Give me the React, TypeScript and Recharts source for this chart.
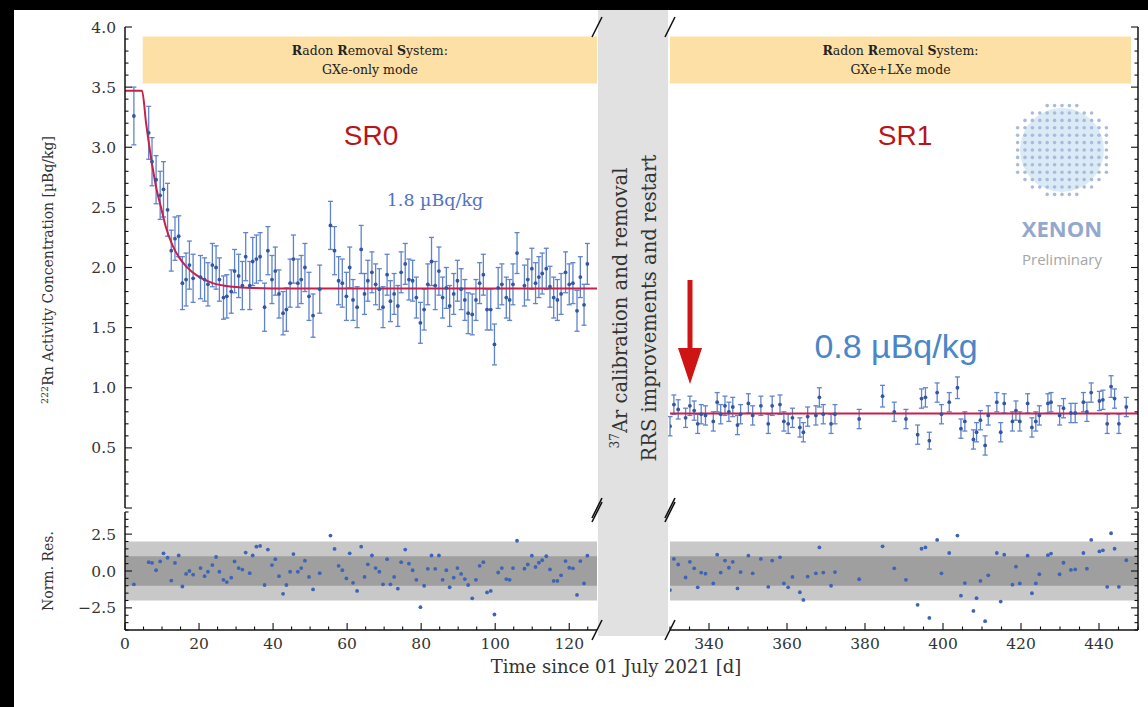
import React from 'react';
import { ComposedChart, Scatter, Line, XAxis, YAxis, ErrorBar, ReferenceArea } from 'recharts';

// ---------- SR0 (GXe-only mode) ----------
const sr0Days = [
  2.4, 6.4, 7.3, 8.4, 9.5, 10.4, 11.5, 12.5, 13.5, 14.5,
  15.5, 16.5, 17.4, 18.4, 20.4, 21.5, 22.4, 23.6, 24.6, 25.5,
  26.6, 27.5, 28.7, 29.6, 30.7, 31.7, 32.6, 33.7, 34.5, 35.5,
  36.5, 37.7, 38.6, 39.7, 40.6, 41.6, 42.7, 43.6, 44.6, 45.5,
  46.7, 47.6, 48.6, 49.7, 50.8, 52.6, 55.5, 56.6, 57.7, 58.7,
  59.8, 60.7, 61.6, 62.7, 63.8, 64.7, 65.6, 66.7, 67.7, 68.7,
  69.7, 70.8, 71.7, 72.7, 73.7, 74.6, 75.7, 76.7, 77.7, 78.7,
  79.8, 80.8, 81.8, 82.8, 83.8, 84.8, 85.8, 86.8, 87.7, 88.8,
  89.8, 90.8, 91.8, 92.7, 93.8, 94.8, 95.8, 96.8, 97.8, 98.8,
  99.8, 100.8, 101.8, 103.0, 103.9, 104.8, 105.9, 107.9, 108.8, 109.9,
  110.9, 111.8, 112.7, 113.8, 114.8, 115.8, 116.8, 117.8, 119.0, 120.0,
  121.0, 122.1, 123.0, 124.0, 124.9,
];
const sr0Conc = [
  3.26, 3.12, 2.88, 2.73, 2.6, 2.65, 2.48, 2.14, 2.24, 2.26,
  1.87, 1.9, 2.02, 1.91, 1.92, 1.9, 1.86, 2.02, 2.0, 1.9,
  1.75, 1.76, 1.8, 1.97, 1.93, 1.85, 2.09, 1.85, 2.05, 2.07,
  2.09, 1.67, 2.14, 1.9, 1.97, 1.78, 1.62, 1.65, 1.87, 2.07,
  1.87, 1.9, 2.0, 1.76, 1.6, 1.82, 2.35, 2.14, 1.89, 1.87,
  1.76, 2.0, 1.73, 1.67, 2.15, 1.78, 1.89, 1.96, 1.86, 1.82,
  1.67, 1.94, 1.72, 1.78, 1.68, 1.96, 2.03, 1.9, 1.89, 1.75,
  1.54, 1.65, 1.86, 2.05, 1.85, 1.97, 1.75, 1.83, 1.68, 1.78,
  1.89, 1.82, 1.73, 1.62, 1.61, 1.73, 1.87, 1.94, 1.65, 1.65,
  1.36, 1.83, 1.86, 1.75, 1.73, 1.86, 2.12, 1.85, 1.9, 1.99,
  1.87, 1.92, 1.95, 1.99, 1.84, 1.75, 1.73, 1.78, 1.96, 1.86,
  1.87, 1.64, 1.92, 1.69, 2.03,
];
const sr0Err = [
  0.24, 0.22, 0.2, 0.2, 0.2, 0.23, 0.22, 0.17, 0.18, 0.17,
  0.22, 0.22, 0.2, 0.2, 0.18, 0.18, 0.18, 0.18, 0.18, 0.18,
  0.18, 0.18, 0.18, 0.18, 0.18, 0.2, 0.2, 0.2, 0.2, 0.2,
  0.2, 0.2, 0.2, 0.2, 0.2, 0.2, 0.18, 0.18, 0.2, 0.2,
  0.2, 0.2, 0.2, 0.2, 0.18, 0.2, 0.2, 0.2, 0.2, 0.2,
  0.2, 0.17, 0.17, 0.17, 0.2, 0.17, 0.17, 0.17, 0.17, 0.17,
  0.17, 0.17, 0.17, 0.17, 0.17, 0.17, 0.17, 0.17, 0.17, 0.17,
  0.17, 0.17, 0.17, 0.2, 0.2, 0.2, 0.17, 0.17, 0.17, 0.17,
  0.17, 0.17, 0.17, 0.17, 0.17, 0.17, 0.17, 0.17, 0.17, 0.17,
  0.17, 0.17, 0.17, 0.17, 0.17, 0.17, 0.17, 0.17, 0.17, 0.17,
  0.17, 0.17, 0.17, 0.17, 0.17, 0.17, 0.17, 0.17, 0.17, 0.17,
  0.17, 0.17, 0.17, 0.17, 0.17,
];
const sr0Res = [
  -0.9, 0.6, 0.55, 0.05, 0.65, 1.2, 0.9, -0.65, 0.55, 1.05,
  -1.05, -0.2, 0.0, -0.25, 0.2, -0.35, -0.05, 0.4, 0.95, -0.05,
  -0.6, -0.75, -0.45, 0.65, 0.2, 0.1, 1.25, -0.15, 1.05, 1.65,
  1.7, -0.95, 1.45, 0.4, 0.8, -0.35, -1.55, -0.95, -0.05, 1.15,
  -0.05, 0.2, 0.7, -0.4, -1.25, -0.15, 2.4, 1.5, 0.35, 0.05,
  -0.5, 1.2, -0.8, -1.35, 1.65, -0.4, 0.45, 1.05, 0.2, -0.05,
  -0.9, 0.8, -0.9, -0.4, -1.2, 0.6, 1.45, 0.5, 0.05, -0.6,
  -2.45, -1.0, 0.15, 1.05, 0.15, 1.05, -0.6, 0.05, -1.1, -0.45,
  0.2, -0.2, -0.55, -0.95, -1.85, -0.6, 0.35, 0.6, -1.45, -1.35,
  -2.95, -0.1, 0.2, -0.55, -0.6, 0.2, 2.05, 0.16, 0.44, 1.04,
  0.27, 0.56, 0.73, 1.0, 0.11, -0.67, -0.67, -0.29, 0.67, 0.22,
  0.18, -1.62, 0.67, -0.84, 1.04,
];
// fitted decay towards the 1.8 uBq/kg plateau
const sr0FitDays = [0, 4.6, 5.7, 7.1, 8.4, 9.8, 11.1, 12.9, 14.7, 16.5, 20.1, 23.7, 29.1, 34.5, 45, 127.5];
const sr0FitConc = [3.47, 3.47, 3.2, 2.9, 2.67, 2.49, 2.33, 2.18, 2.08, 2.01, 1.92, 1.87, 1.84, 1.83, 1.825, 1.825];

// ---------- SR1 (GXe+LXe mode) ----------
const sr1Days = [
  330.0, 331.0, 332.1, 334.0, 335.1, 336.2, 337.1, 338.0, 339.1, 341.1,
  342.1, 343.0, 344.1, 345.1, 346.1, 347.3, 348.1, 350.1, 351.2, 353.3,
  355.2, 356.2, 358.2, 359.2, 360.3, 361.4, 363.3, 364.2, 365.3, 367.4,
  368.3, 369.3, 371.3, 372.3, 378.5, 384.5, 387.5, 390.5, 393.5, 394.5,
  395.5, 396.5, 398.5, 399.6, 401.6, 403.7, 404.6, 405.6, 407.8, 408.6,
  409.6, 410.8, 411.6, 413.8, 414.8, 415.7, 417.8, 418.7, 419.7, 421.7,
  422.8, 423.8, 424.7, 426.9, 427.7, 429.9, 430.9, 432.8, 433.9, 436.0,
  436.9, 438.0, 440.1, 441.0, 442.1, 443.1, 444.0, 445.1, 447.0,
];
const sr1Conc = [
  0.68, 0.86, 0.82, 0.75, 0.85, 0.81, 0.7, 0.78, 0.77, 0.72,
  0.88, 0.78, 0.85, 0.8, 0.84, 0.69, 0.78, 0.87, 0.77, 0.85,
  0.7, 0.85, 0.86, 0.72, 0.7, 0.75, 0.67, 0.63, 0.76, 0.77,
  0.92, 0.78, 0.7, 0.78, 0.74, 0.93, 0.8, 0.74, 0.61, 0.91,
  0.92, 0.56, 0.96, 0.78, 0.88, 1.0, 0.66, 0.72, 0.57, 0.63,
  0.73, 0.52, 0.77, 0.88, 0.63, 0.87, 0.72, 0.81, 0.72, 0.87,
  0.67, 0.72, 0.77, 0.87, 0.88, 0.77, 0.83, 0.79, 0.79, 0.88,
  0.8, 0.96, 0.89, 0.9, 0.7, 1.01, 0.91, 0.7, 0.84,
];
const sr1Err = [
  0.08, 0.08, 0.08, 0.08, 0.08, 0.08, 0.08, 0.08, 0.08, 0.08,
  0.08, 0.08, 0.08, 0.08, 0.08, 0.08, 0.08, 0.08, 0.08, 0.08,
  0.08, 0.08, 0.08, 0.08, 0.08, 0.08, 0.08, 0.08, 0.08, 0.08,
  0.08, 0.08, 0.08, 0.08, 0.08, 0.09, 0.08, 0.08, 0.08, 0.08,
  0.08, 0.07, 0.08, 0.08, 0.08, 0.09, 0.08, 0.08, 0.08, 0.08,
  0.08, 0.08, 0.08, 0.08, 0.08, 0.08, 0.08, 0.08, 0.08, 0.08,
  0.08, 0.08, 0.08, 0.08, 0.08, 0.08, 0.08, 0.08, 0.08, 0.08,
  0.08, 0.08, 0.08, 0.08, 0.08, 0.09, 0.08, 0.08, 0.08,
];
const sr1Res = [
  -1.29, 0.82, 0.44, -0.44, 0.62, 0.18, -1.11, -0.11, -0.18, -0.84,
  1.11, -0.11, 0.71, 0.22, 0.62, -1.18, -0.07, 1.04, -0.16, 0.82,
  -1.07, 0.71, 0.93, -0.84, -1.11, -0.4, -1.44, -1.96, -0.38, -0.16,
  1.6, -0.11, -1.0, -0.07, -0.56, 1.67, 0.18, -0.6, -2.29, 1.51,
  1.6, -3.18, 2.11, -0.16, 1.22, 2.4, -1.67, -0.82, -2.71, -1.84,
  -0.67, -3.4, -0.29, 1.22, -2.07, 1.11, -0.93, 0.29, -0.84, 1.04,
  -1.51, -0.84, -0.22, 1.07, 1.18, -0.22, 0.56, 0.07, 0.11, 1.22,
  0.16, 2.11, 1.33, 1.4, -1.07, 2.56, 1.51, -1.07, 0.73,
];
const sr1FitDays = [330, 450];
const sr1FitConc = [0.786, 0.786];

// ---------- axes ----------
const sr0Domain: [number, number] = [0, 127.5];
const sr1Domain: [number, number] = [330, 450];
const sr0DayLabels = [0, 20, 40, 60, 80, 100, 120];
const sr1DayLabels = [340, 360, 380, 400, 420, 440];
const concLabels = [0.5, 1.0, 1.5, 2.0, 2.5, 3.0, 3.5, 4.0];
const concMajor = [0, 0.5, 1.0, 1.5, 2.0, 2.5, 3.0, 3.5, 4.0];
const resLabels = [-2.5, 0, 2.5];

const range = (a: number, b: number, s: number) => {
  const out: number[] = [];
  for (let v = a; v <= b + 1e-9; v += s) out.push(Math.round(v * 1000) / 1000);
  return out;
};
const sr0DayTicks = range(0, 125, 5);
const sr1DayTicks = range(330, 450, 5);
const concTicks = range(0, 4, 0.1);
const resTicks = range(-4, 4, 0.5);

const sr0Points = sr0Days.map((d, i) => ({ day: d, conc: sr0Conc[i], err: sr0Err[i], res: sr0Res[i] }));
const sr1Points = sr1Days.map((d, i) => ({ day: d, conc: sr1Conc[i], err: sr1Err[i], res: sr1Res[i] }));
const sr0Fit = sr0FitDays.map((d, i) => ({ day: d, conc: sr0FitConc[i] }));
const sr1Fit = sr1FitDays.map((d, i) => ({ day: d, conc: sr1FitConc[i] }));

// ---------- styles ----------
const AX = '#111';
const SERIF = "'DejaVu Serif', serif";
const SANS = "'Liberation Sans', Arial, sans-serif";
const DOT = '#34559f';
const ERR = '#5f84cc';
const FIT = '#c81f4d';
const RES_DOT = '#3f64b4';
const BAND = '#fce0a5';
const TICK_FONT = 15.5;

type Side = 'left' | 'right' | 'top' | 'bottom';

const fmtConc = (v: number) => v.toFixed(1);
const fmtRes = (v: number) => (v < 0 ? '\u2212' + Math.abs(v).toFixed(1) : v.toFixed(1));
const fmtDay = (v: number) => String(v);

function makeTick(side: Side, majors: number[], labels: number[], fmt: (v: number) => string) {
  return (props: any) => {
    const { x, y, payload } = props;
    const v = Number(payload.value);
    const isMajor = majors.some((m) => Math.abs(m - v) < 1e-6);
    const hasLabel = labels.some((m) => Math.abs(m - v) < 1e-6);
    const len = isMajor ? 7 : 3.5;
    let x2 = x;
    let y2 = y;
    if (side === 'left') x2 = x + len;
    else if (side === 'right') x2 = x - len;
    else if (side === 'bottom') y2 = y - len;
    else y2 = y + len;
    let label: React.ReactNode = null;
    if (hasLabel && side === 'left') {
      label = (
        <text x={x - 9} y={y} dy="0.36em" textAnchor="end" fontFamily={SERIF} fontSize={TICK_FONT} fill="#333">
          {fmt(v)}
        </text>
      );
    } else if (hasLabel && side === 'bottom') {
      label = (
        <text x={x} y={y + 7} dy="0.75em" textAnchor="middle" fontFamily={SERIF} fontSize={TICK_FONT} fill="#333">
          {fmt(v)}
        </text>
      );
    }
    return (
      <g>
        <line x1={x} y1={y} x2={x2} y2={y2} stroke={AX} strokeWidth={1.1} />
        {label}
      </g>
    );
  };
}

const axisLine = { stroke: AX, strokeWidth: 1.5 };

function xAxes(domain: [number, number], ticks: number[], majors: number[], labels: number[], height: number) {
  return [
    <XAxis
      key="xb"
      xAxisId="b"
      type="number"
      dataKey="day"
      domain={domain}
      allowDataOverflow
      ticks={ticks}
      interval={0}
      tickLine={false}
      tickSize={0}
      tickMargin={0}
      height={height}
      axisLine={axisLine}
      tick={makeTick('bottom', majors, labels, fmtDay)}
    />,
    <XAxis
      key="xt"
      xAxisId="t"
      orientation="top"
      type="number"
      dataKey="day"
      domain={domain}
      allowDataOverflow
      ticks={ticks}
      interval={0}
      tickLine={false}
      tickSize={0}
      tickMargin={0}
      height={0}
      axisLine={axisLine}
      tick={makeTick('top', majors, [], fmtDay)}
    />,
  ];
}

function yAxis(side: 'left' | 'right', domain: [number, number], ticks: number[], majors: number[], labels: number[], fmt: (v: number) => string, width: number) {
  return (
    <YAxis
      key="y"
      yAxisId="y"
      orientation={side}
      type="number"
      domain={domain}
      allowDataOverflow
      ticks={ticks}
      interval={0}
      tickLine={false}
      tickSize={0}
      tickMargin={0}
      width={width}
      axisLine={axisLine}
      tick={makeTick(side, majors, labels, fmt)}
    />
  );
}

const dotShape = (r: number, fill: string) => (p: any) =>
  p.cx == null || p.cy == null ? <g /> : <circle cx={p.cx} cy={p.cy} r={r} fill={fill} />;

function BandTitle(props: any) {
  const vb = props.viewBox || { x: 0, y: 0, width: 0, height: 0 };
  const cx = vb.x + vb.width / 2;
  return (
    <g fontFamily={SERIF} fontSize={12.5} fill="#222" textAnchor="middle">
      <text x={cx} y={vb.y + 18}>
        <tspan fontWeight="bold">R</tspan>adon <tspan fontWeight="bold">R</tspan>emoval{' '}
        <tspan fontWeight="bold">S</tspan>ystem:
      </text>
      <text x={cx} y={vb.y + 37}>
        {props.mode}
      </text>
    </g>
  );
}

const abs = (l: number, t: number): React.CSSProperties => ({ position: 'absolute', left: l, top: t });

// dotted globe of the collaboration logo
const logoRows = [5, 9, 11, 13, 13, 13, 13, 13, 13, 13, 11, 9, 5];

function Logo() {
  const cx = 1062;
  const cy = 150;
  const step = 7.4;
  const dots: React.ReactNode[] = [];
  logoRows.forEach((n, r) => {
    const yy = cy + (r - (logoRows.length - 1) / 2) * step;
    for (let k = 0; k < n; k++) {
      const xx = cx + (k - (n - 1) / 2) * step;
      dots.push(<circle key={r + '-' + k} cx={xx} cy={yy} r={1.8} fill="#a9bbd8" />);
    }
  });
  return (
    <g>
      <circle cx={cx} cy={cy} r={42} fill="#dbeaf7" />
      {dots}
      <text x={cx} y={237} textAnchor="middle" fontFamily="'Open Sans', sans-serif" fontWeight="bold" fontSize={22} fill="#93a8cc">
        XENON
      </text>
      <text x={cx} y={265} textAnchor="middle" fontFamily="'Open Sans', sans-serif" fontSize={15} fill="#a6a6a6">
        Preliminary
      </text>
    </g>
  );
}

function BreakMark({ x, y }: { x: number; y: number }) {
  return <line x1={x - 5} y1={y + 10} x2={x + 5} y2={y - 10} stroke={AX} strokeWidth={1.6} />;
}

export default function App() {
  const breakYs = [27, 508, 512, 630];
  return (
    <div style={{ position: 'absolute', left: 0, top: 0, width: 1148, height: 707, background: '#fff', overflow: 'hidden' }}>
      {/* SR0 activity */}
      <div style={abs(0, 0)}>
        <ComposedChart width={600} height={520} margin={{ top: 27, right: 3, bottom: 12, left: 0 }}>
          {xAxes(sr0Domain, sr0DayTicks, sr0DayLabels, [], 0)}
          {yAxis('left', [0, 4], concTicks, concMajor, concLabels, fmtConc, 125)}
          <ReferenceArea
            xAxisId="b"
            yAxisId="y"
            x1={4.8}
            x2={127.5}
            y1={3.53}
            y2={3.92}
            fill={BAND}
            fillOpacity={1}
            stroke="none"
            label={<BandTitle mode="GXe-only mode" />}
          />
          <Scatter xAxisId="b" yAxisId="y" data={sr0Points} dataKey="conc" shape={dotShape(1.9, DOT)} isAnimationActive={false}>
            <ErrorBar dataKey="err" direction="y" width={2.5} stroke={ERR} strokeWidth={1.3} isAnimationActive={false} />
          </Scatter>
          <Line
            xAxisId="b"
            yAxisId="y"
            data={sr0Fit}
            dataKey="conc"
            type="monotone"
            dot={false}
            activeDot={false}
            stroke={FIT}
            strokeWidth={2}
            isAnimationActive={false}
          />
        </ComposedChart>
      </div>

      {/* SR1 activity */}
      <div style={abs(600, 0)}>
        <ComposedChart width={548} height={520} margin={{ top: 27, right: 0, bottom: 12, left: 70 }}>
          {xAxes(sr1Domain, sr1DayTicks, sr1DayLabels, [], 0)}
          {yAxis('right', [0, 4], concTicks, concMajor, [], fmtConc, 10)}
          <ReferenceArea
            xAxisId="b"
            yAxisId="y"
            x1={330}
            x2={448.2}
            y1={3.53}
            y2={3.92}
            fill={BAND}
            fillOpacity={1}
            stroke="none"
            label={<BandTitle mode="GXe+LXe mode" />}
          />
          <Scatter xAxisId="b" yAxisId="y" data={sr1Points} dataKey="conc" shape={dotShape(1.9, DOT)} isAnimationActive={false}>
            <ErrorBar dataKey="err" direction="y" width={2.5} stroke={ERR} strokeWidth={1.3} isAnimationActive={false} />
          </Scatter>
          <Line
            xAxisId="b"
            yAxisId="y"
            data={sr1Fit}
            dataKey="conc"
            type="linear"
            dot={false}
            activeDot={false}
            stroke={FIT}
            strokeWidth={2}
            isAnimationActive={false}
          />
        </ComposedChart>
      </div>

      {/* SR0 residuals */}
      <div style={abs(0, 480)}>
        <ComposedChart width={600} height={200} margin={{ top: 32, right: 3, bottom: 0, left: 0 }}>
          {xAxes(sr0Domain, sr0DayTicks, sr0DayLabels, sr0DayLabels, 50)}
          {yAxis('left', [-4, 4], resTicks, resLabels, resLabels, fmtRes, 125)}
          <ReferenceArea xAxisId="b" yAxisId="y" y1={-2} y2={2} fill="#c8c8c8" fillOpacity={1} stroke="none" />
          <ReferenceArea xAxisId="b" yAxisId="y" y1={-1} y2={1} fill="#9f9f9f" fillOpacity={1} stroke="none" />
          <Scatter xAxisId="b" yAxisId="y" data={sr0Points} dataKey="res" shape={dotShape(1.9, RES_DOT)} isAnimationActive={false} />
        </ComposedChart>
      </div>

      {/* SR1 residuals */}
      <div style={abs(600, 480)}>
        <ComposedChart width={548} height={200} margin={{ top: 32, right: 0, bottom: 0, left: 70 }}>
          {xAxes(sr1Domain, sr1DayTicks, sr1DayLabels, sr1DayLabels, 50)}
          {yAxis('right', [-4, 4], resTicks, resLabels, [], fmtRes, 10)}
          <ReferenceArea xAxisId="b" yAxisId="y" y1={-2} y2={2} fill="#c8c8c8" fillOpacity={1} stroke="none" />
          <ReferenceArea xAxisId="b" yAxisId="y" y1={-1} y2={1} fill="#9f9f9f" fillOpacity={1} stroke="none" />
          <Scatter xAxisId="b" yAxisId="y" data={sr1Points} dataKey="res" shape={dotShape(1.9, RES_DOT)} isAnimationActive={false} />
        </ComposedChart>
      </div>

      {/* annotations */}
      <svg width={1148} height={707} style={{ position: 'absolute', left: 0, top: 0, pointerEvents: 'none' }}>
        <rect x={598} y={10} width={70} height={626} fill="#e1e1e1" />
        <g fontFamily={SERIF} fontSize={19.5} fill="#333" textAnchor="middle">
          <text transform="translate(627,308) rotate(-90)">
            <tspan fontSize={12} dy={-8}>37</tspan>
            <tspan dy={8}>Ar calibration and removal</tspan>
          </text>
          <text transform="translate(656,308) rotate(-90)">RRS improvements and restart</text>
        </g>
        {breakYs.map((y) => (
          <BreakMark key={'l' + y} x={597} y={y} />
        ))}
        {breakYs.map((y) => (
          <BreakMark key={'r' + y} x={670} y={y} />
        ))}

        <text x={371} y={145} textAnchor="middle" fontFamily={SANS} fontSize={28} fill="#b8141c">
          SR0
        </text>
        <text x={905} y={145} textAnchor="middle" fontFamily={SANS} fontSize={28} fill="#b8141c">
          SR1
        </text>
        <text x={435} y={206} textAnchor="middle" fontFamily={SERIF} fontSize={17.5} fill="#4d74bf">
          1.8 µBq/kg
        </text>
        <text x={896} y={358} textAnchor="middle" fontFamily={SANS} fontSize={34} fill="#4a86c8">
          0.8 µBq/kg
        </text>

        {/* arrow marking the start of SR1 */}
        <rect x={687.5} y={280} width={5} height={70} fill="#cf1414" />
        <polygon points="678,348 702,348 690,384" fill="#cf1414" />

        <Logo />

        <g fontFamily={SERIF} fill="#333" textAnchor="middle">
          <text transform="translate(53,270) rotate(-90)" fontSize={14}>
            <tspan fontSize={9.5} dy={-5}>222</tspan>
            <tspan dy={5}>Rn Activity Concentration [µBq/kg]</tspan>
          </text>
          <text transform="translate(53,571) rotate(-90)" fontSize={14}>
            Norm. Res.
          </text>
          <text x={616} y={673} fontSize={18}>
            Time since 01 July 2021 [d]
          </text>
        </g>
      </svg>

      {/* dark frame strips along the top and left edges */}
      <div style={{ position: 'absolute', left: 0, top: 0, width: 1148, height: 10, background: '#000' }} />
      <div style={{ position: 'absolute', left: 0, top: 0, width: 14, height: 707, background: '#000' }} />
    </div>
  );
}
